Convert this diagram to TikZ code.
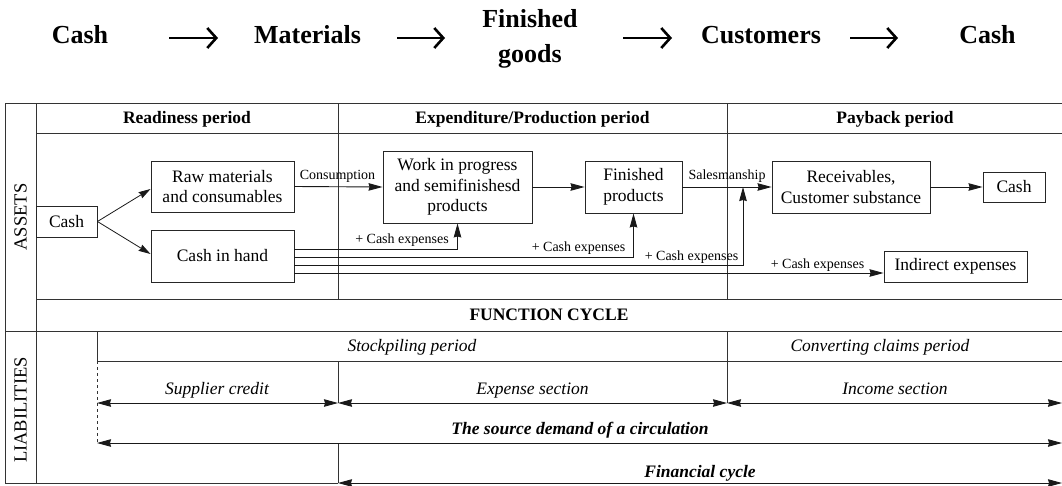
\documentclass[tikz,border=0pt]{standalone}
\usepackage{fontspec}
\setmainfont{Liberation Serif}
\usetikzlibrary{arrows.meta}
\newcommand\myBoxFont{\fontsize{17.5}{20.5}\selectfont}
\newcommand\myLabFont{\fontsize{14}{16}\selectfont}
\newcommand\myHeadFont{\fontsize{17.5}{21}\selectfont\bfseries}
\newcommand\myItFont{\fontsize{17.5}{21}\selectfont\itshape}
\newcommand\myTopFont{\fontsize{26}{35}\selectfont\bfseries}
\begin{document}
\begin{tikzpicture}[x=1pt,y=-1pt,
  bx/.style={draw=black!85, line width=0.9pt, inner sep=0pt, align=center, font=\myBoxFont},
  lab/.style={font=\myLabFont, inner sep=0pt, anchor=base},
  hd/.style={font=\myHeadFont, inner sep=0pt, anchor=base},
  itl/.style={font=\myItFont, inner sep=0pt, anchor=base},
  bitl/.style={font=\myItFont\bfseries, inner sep=0pt, anchor=base},
  tp/.style={font=\myTopFont, inner sep=0pt, align=center},
  side/.style={font=\fontsize{18.5}{21}\selectfont, inner sep=0pt, rotate=90},
  frm/.style={draw=black!80, line width=1pt},
  arr/.style={draw=black!90, line width=0.9pt, -{Stealth[length=14pt,width=7.5pt,inset=1pt]}},
  arrsm/.style={draw=black!90, line width=0.8pt, -{Stealth[length=12pt,width=7pt,inset=1pt]}},
  darr/.style={draw=black!90, line width=0.9pt, {Stealth[length=14pt,width=7.5pt,inset=1pt]}-{Stealth[length=14pt,width=7.5pt,inset=1pt]}},
  toparr/.style={draw=black, line width=2.6pt, -{Straight Barb[length=9pt,width=20pt,line width=2.6pt]}}
]
\useasboundingbox (0,0) rectangle (1062,485);

% ---------- top row ----------
\node[tp, anchor=base] (t1) at (80,43) {Cash};
\node[tp, anchor=base] (t2) at (307.5,43) {Materials};
\node[tp] (t3) at (530,38.5) {Finished\\goods};
\node[tp, anchor=base] (t4) at (761,43) {Customers};
\node[tp, anchor=base] (t5) at (987.5,43) {Cash};
\coordinate (a1s) at (169,38); \coordinate (a1e) at (218,38);
\coordinate (a2s) at (397,38); \coordinate (a2e) at (445,38);
\coordinate (a3s) at (623,38); \coordinate (a3e) at (672,38);
\coordinate (a4s) at (850,38); \coordinate (a4e) at (898,38);
\draw[toparr] (a1s) -- (a1e);
\draw[toparr] (a2s) -- (a2e);
\draw[toparr] (a3s) -- (a3e);
\draw[toparr] (a4s) -- (a4e);

% ---------- frame ----------
\draw[frm] (5,103) -- (1062,103);
\draw[frm] (36,133) -- (1062,133);
\draw[frm] (5,103) -- (5,483) -- (338,483);
\draw[frm] (36,103) -- (36,483);
\draw[frm] (338,103) -- (338,299);
\draw[frm] (727,103) -- (727,299);
\draw[frm] (36,299) -- (1062,299);
\draw[frm] (5,331) -- (1062,331);
\draw[frm] (97,331) -- (97,361) -- (1062,361);
\draw[frm] (338,361) -- (338,403);
\draw[frm] (727,331) -- (727,403);
\draw[frm] (338,443) -- (338,483);
\draw[draw=black!80, line width=0.8pt, dashed] (97,361) -- (97,443);

% ---------- side labels ----------
\node[side] (assets) at (20.5,217) {ASSETS};
\node[side] (liab) at (20.5,410) {LIABILITIES};

% ---------- headers ----------
\node[hd] (h1) at (187,123.5) {Readiness period};
\node[hd] (h2) at (532.5,123.5) {Expenditure/Production period};
\node[hd] (h3) at (895,123.5) {Payback period};
\node[hd] (fc) at (549,320.5) {FUNCTION CYCLE};

% ---------- boxes ----------
\node[bx, minimum width=61pt, minimum height=31pt] (cashL) at (66.5,221.5) {Cash};
\node[bx, minimum width=143pt, minimum height=51pt] (raw) at (222.5,186.5) {Raw materials\\and consumables};
\node[bx, minimum width=143pt, minimum height=52pt] (hand) at (222.5,256) {Cash in hand};
\node[bx, minimum width=149pt, minimum height=72pt] (wip) at (457.5,187) {Work in progress\\and semifinishesd\\products};
\node[bx, minimum width=97pt, minimum height=52pt] (fp) at (633.5,187) {Finished\\products};
\node[bx, minimum width=158pt, minimum height=52pt] (rec) at (851,187) {Receivables,\\Customer substance};
\node[bx, minimum width=62pt, minimum height=30pt] (cashR) at (1014,187) {Cash};
\node[bx, minimum width=143pt, minimum height=31pt] (ind) at (955.5,266.5) {Indirect expenses};

% ---------- asset connectors ----------
\draw[arrsm] (cashL.east) -- ([yshift=-2.5pt]raw.west);
\draw[arrsm] (cashL.east) -- ([yshift=2pt]hand.west);
\draw[arr] (raw.east) -- (wip.west);
\draw[arr] (wip.east) -- (fp.west);
\draw[arr] (fp.east) -- (rec.west);
\draw[arr] (rec.east) -- (cashR.west);
\coordinate (sm) at (743,187);
\draw[arr] ([yshift=7pt]hand.east) -| (wip.south);
\draw[arr] ([yshift=-1pt]hand.east) -| (fp.south);
\draw[arr] ([yshift=-9pt]hand.east) -| (sm);
\draw[arr] ([yshift=-17pt]hand.east) -- ([yshift=-6.5pt]ind.west);

\node[lab] (lc) at (337.5,179) {Consumption};
\node[lab] (ls) at (727,179) {Salesmanship};
\node[lab] (e1) at (402,243) {+ Cash expenses};
\node[lab] (e2) at (578.5,251.5) {+ Cash expenses};
\node[lab] (e3) at (691.5,260) {+ Cash expenses};
\node[lab] (e4) at (817.5,268) {+ Cash expenses};

% ---------- liabilities ----------
\node[itl] (sp) at (412,351) {Stockpiling period};
\node[itl] (cc) at (880,351) {Converting claims period};
\node[itl] (sc) at (217,394) {Supplier credit};
\node[itl] (es) at (532.5,394) {Expense section};
\node[itl] (is) at (895,394.5) {Income section};
\node[bitl] (sd) at (580,434) {The source demand of a circulation};
\node[bitl] (fcy) at (700,477) {Financial cycle};

\coordinate (p1) at (97,403);
\coordinate (p2) at (338,403);
\coordinate (p3) at (727,403);
\coordinate (p4) at (1062,403);
\coordinate (q1) at (97,443);
\coordinate (q2) at (1062,443);
\coordinate (r1) at (338,483);
\coordinate (r2) at (1062,483);
\draw[darr] (p1) -- (p2);
\draw[darr] (p2) -- (p3);
\draw[darr] (p3) -- (p4);
\draw[darr] (q1) -- (q2);
\draw[darr] (r1) -- (r2);
\end{tikzpicture}
\end{document}
